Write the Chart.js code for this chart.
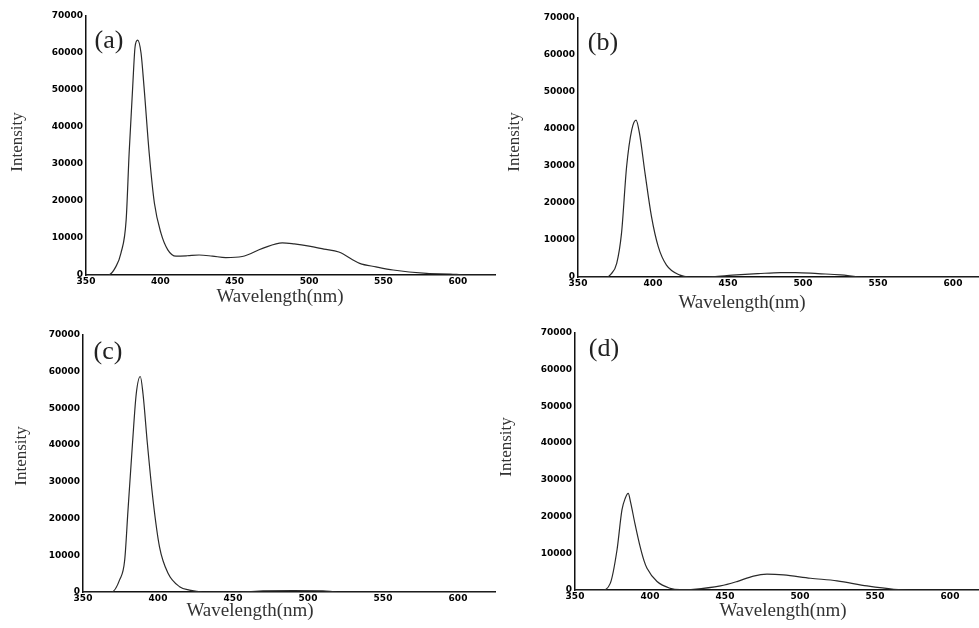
<!DOCTYPE html>
<html>
<head>
<meta charset="utf-8">
<script src="https://cdn.jsdelivr.net/npm/chart.js@4"></script>
<style>
  html, body { margin: 0; padding: 0; background: #fff; width: 979px; height: 628px; overflow: hidden; }
  canvas { position: absolute; }
</style>
</head>
<body>
<canvas id="cA" width="500" height="315" style="left:0px;top:0px"></canvas>
<canvas id="cB" width="501" height="315" style="left:490px;top:0px"></canvas>
<canvas id="cC" width="500" height="308" style="left:0px;top:320px"></canvas>
<canvas id="cD" width="500" height="308" style="left:490px;top:320px"></canvas>
<script>
// ---- data ----
const panelLabels = ["(a)", "(b)", "(c)", "(d)"];
const xTitle = "Wavelength(nm)";
const yTitle = "Intensity";
const xTicks = [350, 400, 450, 500, 550, 600];
const yTicks = [0, 10000, 20000, 30000, 40000, 50000, 60000, 70000];

const wlA  = [350,365,370,373.5,377,379,381.4,383,384.7,387,389,392.5,396,400.4,405,410.5,418,426,435,444,455,468.7,482,490,500,510,520,534,545,556.5,579,595,605,625];
const intA = [0,0,2200,5900,14900,32900,50900,61700,63500,60000,50900,32900,19400,11300,6800,5100,5200,5400,5100,4700,5000,7200,8700,8400,7800,7000,6200,3150,2200,1350,450,270,0,0];

const wlB  = [350,369,372,375.8,379,382.4,385.8,388.7,391,394.7,399,403.5,409,418,424,440,453,470,485,495,510,525,540,625];
const intB = [0,0,800,3700,11800,29800,39700,42400,38800,28000,16300,8200,3200,500,0,100,500,900,1200,1200,900,600,0,0];

const wlC  = [350,369,374.4,377.8,380,383,385.5,388.2,390,392.9,396.7,401,406.7,414.4,421,430,460,470,490,510,520,625];
const intC = [0,0,3300,8700,22300,40500,54000,58700,54000,40500,25000,12300,5100,1450,500,0,100,300,350,300,0,0];

const wlD  = [350,368,373.5,378,381.3,383.5,385.5,387,390,393,396,398,404.7,413.5,420,429,447,458,469,478,489,507,524.7,544.7,562.5,575,625];
const intD = [0,0,1800,10900,21800,25000,26300,24000,18000,12500,8000,5900,2300,450,100,200,1100,2300,3800,4300,4100,3200,2500,1100,200,0,0];

// ---- layout (pixel placement of each panel inside its canvas) ----
const layouts = [
  { id: "cA", wl: wlA, val: intA, left: 86, top: 16, bottom: 275, right: 495,
    lab: [109, 41], yt: [18, 142], xt: [280, 297] },
  { id: "cB", wl: wlB, val: intB, left: 88, top: 18, bottom: 277, right: 500.5,
    lab: [113, 43], yt: [25, 142], xt: [252, 303] },
  { id: "cC", wl: wlC, val: intC, left: 83, top: 15, bottom: 272, right: 495.5,
    lab: [108, 32], yt: [22, 136], xt: [250, 291] },
  { id: "cD", wl: wlD, val: intD, left: 85, top: 13, bottom: 270, right: 497.5,
    lab: [114, 29], yt: [17, 127], xt: [293, 291] }
];

const textPlugin = {
  id: "panelText",
  afterDraw(chart, args, opts) {
    const ctx = chart.ctx;
    ctx.save();
    ctx.fillStyle = "#222";
    ctx.textAlign = "center";
    ctx.textBaseline = "middle";
    ctx.font = "26px 'Liberation Serif', 'Times New Roman', serif";
    ctx.fillText(opts.label, opts.lab[0], opts.lab[1]);
    ctx.fillStyle = "#333";
    ctx.font = "19px 'Liberation Serif', 'Times New Roman', serif";
    ctx.fillText(xTitle, opts.xt[0], opts.xt[1]);
    ctx.translate(opts.yt[0], opts.yt[1]);
    ctx.rotate(-Math.PI / 2);
    ctx.font = "17px 'Liberation Serif', 'Times New Roman', serif";
    ctx.fillText(yTitle, 0, 0);
    ctx.restore();
  }
};

layouts.forEach((L, i) => {
  const cv = document.getElementById(L.id);
  const W = cv.width, H = cv.height;
  new Chart(cv, {
    type: "line",
    data: {
      datasets: [{
        data: L.wl.map((x, k) => ({ x: x, y: L.val[k] })),
        borderColor: "#2a2a2a",
        borderWidth: 1.2,
        pointRadius: 0,
        fill: false,
        cubicInterpolationMode: "monotone"
      }]
    },
    options: {
      responsive: false,
      animation: false,
      devicePixelRatio: 1,
      layout: { padding: { left: 0, top: L.top, right: W - L.right, bottom: 0 } },
      plugins: {
        legend: { display: false },
        tooltip: { enabled: false },
        panelText: { label: panelLabels[i], lab: L.lab, yt: L.yt, xt: L.xt }
      },
      scales: {
        x: {
          type: "linear",
          min: 350, max: 625,
          afterBuildTicks: s => { s.ticks = xTicks.map(v => ({ value: v })); },
          afterFit: s => { s.height = H - L.bottom; },
          grid: { display: false, drawTicks: false },
          border: { display: true, color: "#111", width: 1.5 },
          ticks: {
            padding: 1, maxRotation: 0, autoSkip: false,
            color: "#000",
            font: { family: "'DejaVu Sans', sans-serif", size: 9, weight: "bold" },
            callback: v => String(v)
          }
        },
        y: {
          min: 0, max: 70000,
          afterBuildTicks: s => { s.ticks = yTicks.map(v => ({ value: v })); },
          afterFit: s => { s.width = L.left; },
          grid: { display: false, drawTicks: false },
          border: { display: true, color: "#111", width: 1.5 },
          ticks: {
            padding: 3, autoSkip: false,
            color: "#000",
            font: { family: "'DejaVu Sans', sans-serif", size: 9, weight: "bold" },
            callback: v => String(v)
          }
        }
      }
    },
    plugins: [textPlugin]
  });
});
</script>
</body>
</html>
